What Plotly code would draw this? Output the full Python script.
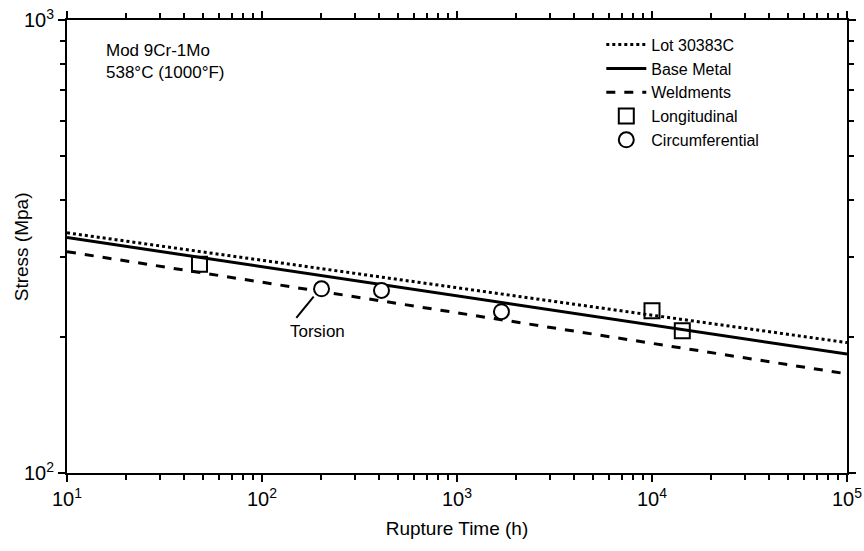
import plotly.graph_objects as go

# ---- data ----
line_time = [10, 100000]
lot_30383c = [339, 194]
base_metal = [331, 183]
weldments = [308, 165.5]

long_time = [47.8, 10000, 14300]
long_stress = [289, 228, 206]

circ_time = [202, 410, 1690]
circ_stress = [255, 253, 227]

x_tickvals = [10, 100, 1000, 10000, 100000]
x_ticktext = ["10<sup>1</sup>", "10<sup>2</sup>", "10<sup>3</sup>", "10<sup>4</sup>", "10<sup>5</sup>"]
y_tickvals = [100, 1000]
y_ticktext = ["10<sup>2</sup>", "10<sup>3</sup>"]

FONT = "Liberation Sans, Arial, sans-serif"

fig = go.Figure()
fig.add_trace(go.Scatter(x=line_time, y=lot_30383c, mode="lines", name="Lot 30383C",
                         line=dict(color="black", width=3, dash="dot")))
fig.add_trace(go.Scatter(x=line_time, y=base_metal, mode="lines", name="Base Metal",
                         line=dict(color="black", width=3, dash="solid")))
fig.add_trace(go.Scatter(x=line_time, y=weldments, mode="lines", name="Weldments",
                         line=dict(color="black", width=3, dash="dash")))
fig.add_trace(go.Scatter(x=long_time, y=long_stress, mode="markers", name="Longitudinal",
                         marker=dict(symbol="square-open", size=15, color="black",
                                     line=dict(width=2, color="black"))))
fig.add_trace(go.Scatter(x=circ_time, y=circ_stress, mode="markers", name="Circumferential",
                         marker=dict(symbol="circle", size=15, color="white",
                                     line=dict(width=2, color="black"))))

minor_x = [m * 10 ** e for e in range(1, 5) for m in range(2, 10)]
minor_y = [m * 100 for m in range(2, 10)]

fig.update_xaxes(type="log", range=[1, 5], tickvals=x_tickvals, ticktext=x_ticktext,
                 ticks="outside", ticklen=7, tickwidth=2, tickcolor="black",
                 showline=True, linewidth=2, linecolor="black", mirror="allticks",
                 showgrid=False, zeroline=False, automargin=False, ticklabeloverflow="allow",
                 minor=dict(tickvals=minor_x, ticks="outside", ticklen=5, tickwidth=2,
                            tickcolor="black", showgrid=False),
                 tickfont=dict(family=FONT, size=20, color="black"),
                 title=dict(text="Rupture Time (h)", font=dict(family=FONT, size=19, color="black"),
                            standoff=13))
fig.update_yaxes(type="log", range=[2, 3], tickvals=y_tickvals, ticktext=y_ticktext,
                 ticks="outside", ticklen=7, tickwidth=2, tickcolor="black",
                 showline=True, linewidth=2, linecolor="black", mirror="allticks",
                 showgrid=False, zeroline=False, automargin=False, ticklabeloverflow="allow",
                 minor=dict(tickvals=minor_y, ticks="outside", ticklen=5, tickwidth=2,
                            tickcolor="black", showgrid=False),
                 tickfont=dict(family=FONT, size=20, color="black"))

# y-axis title placed as rotated text
fig.add_annotation(xref="paper", yref="paper", x=-0.058, y=0.5, xanchor="center", yanchor="middle",
                   text="Stress (Mpa)", textangle=-90, showarrow=False,
                   font=dict(family=FONT, size=19, color="black"))

fig.add_annotation(xref="paper", yref="paper", x=0.048, y=0.959, xanchor="left", yanchor="top",
                   text="Mod 9Cr-1Mo<br>538°C (1000°F)", showarrow=False, align="left",
                   font=dict(family=FONT, size=17, color="black"))

# Torsion label and leader line
fig.add_annotation(x=2.285, y=2.313, xref="x", yref="y", text="Torsion", showarrow=False,
                   font=dict(family=FONT, size=17, color="black"))
fig.add_shape(type="line", xref="x", yref="y", x0=150, y0=220, x1=184, y1=245,
              line=dict(color="black", width=2))

fig.update_layout(
    width=864, height=551,
    margin=dict(l=67, r=17, t=20, b=78),
    paper_bgcolor="white", plot_bgcolor="white",
    font=dict(family=FONT, size=16, color="black"),
    legend=dict(x=0.685, y=0.983, xanchor="left", yanchor="top",
                bgcolor="rgba(0,0,0,0)", font=dict(family=FONT, size=16, color="black"),
                itemwidth=40, tracegroupgap=0),
    showlegend=True,
)

# remove the default 8px page margin so the figure fills the window exactly
fig.write_html("out.html", config={"displayModeBar": False},
               post_script="document.body.style.margin='0';")
